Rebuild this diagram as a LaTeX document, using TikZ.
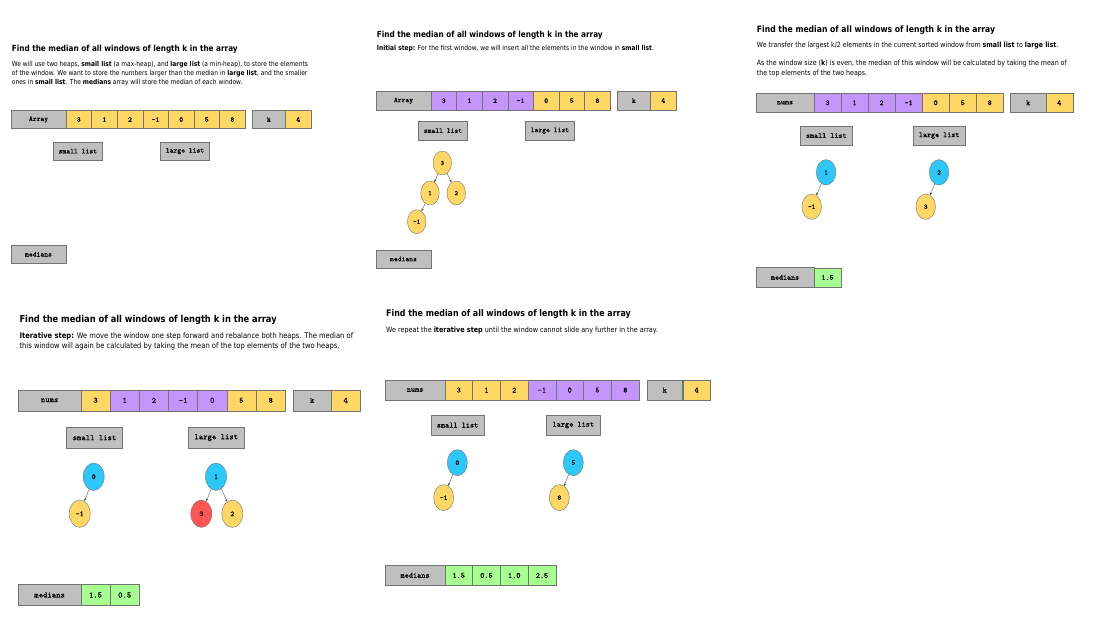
\documentclass[tikz,border=0pt]{standalone}
\usepackage{fontspec}
\setmainfont{DejaVu Sans}[FakeStretch=0.87]
\setmonofont{lmmono10-regular.otf}[FakeBold=0.8]
\usetikzlibrary{positioning,shapes.geometric,arrows.meta}
\definecolor{boxgray}{RGB}{191,191,191}
\definecolor{celly}{RGB}{255,215,100}
\definecolor{cellp}{RGB}{196,150,252}
\definecolor{cellg}{RGB}{168,255,145}
\definecolor{nodeb}{RGB}{45,200,250}
\definecolor{noder}{RGB}{255,85,85}

\begin{document}
\begin{tikzpicture}[x=1pt,y=-1pt,
    cell/.style={draw=black!55, line width=0.4pt, outer sep=0pt, inner sep=0pt,
        minimum width=25.6pt, minimum height=18.4pt,
        font=\fontsize{7.3}{7.3}\selectfont\ttfamily},
    rowlabel/.style={cell, fill=boxgray, minimum width=55pt},
    kbox/.style={cell, fill=boxgray, minimum width=33.2pt},
    listbox/.style={cell, fill=boxgray, minimum width=49.3pt, minimum height=18.5pt},
    yel/.style={cell, fill=celly},
    pur/.style={cell, fill=cellp},
    grn/.style={cell, fill=cellg},
    heap/.style={ellipse, draw=black!55, line width=0.4pt, inner sep=0pt,
        minimum width=18.5pt, minimum height=24pt,
        font=\fontsize{6.6}{6.6}\selectfont\ttfamily},
    yheap/.style={heap, fill=celly},
    bheap/.style={heap, fill=nodeb},
    rheap/.style={heap, fill=noder},
    ptr/.style={draw=black!70, line width=0.35pt, -{Stealth[length=2.8pt,width=2.4pt]}},
    heading/.style={anchor=west, inner sep=0pt, font=\fontsize{8.37}{9}\selectfont\bfseries},
    note/.style={anchor=north west, inner sep=0pt, align=left,
        font=\fontsize{6.82}{9.2}\selectfont}]

    \useasboundingbox (0,0) rectangle (1105,628);

    % window 0: the input
    \begin{scope}[shift={(11,49.3)}]
    \node[heading] (t1) at (0.7,0) {Find the median of all windows of length k in the array};
    \node[note] (d1) at (0.7,11.4) {We will use two heaps, \textbf{small list} (a max-heap), and \textbf{large list} (a min-heap), to store the elements\\
        of the window. We want to store the numbers larger than the median in \textbf{large list}, and the smaller\\
        ones in \textbf{small list}. The \textbf{medians} array will store the median of each window.};

    \node[rowlabel, anchor=west] (r1) at (0,70.2) {Array};
    \node[yel, right=0pt of r1] (r1a) {3};
    \node[yel, right=0pt of r1a] (r1b) {1};
    \node[yel, right=0pt of r1b] (r1c) {2};
    \node[yel, right=0pt of r1c] (r1d) {-1};
    \node[yel, right=0pt of r1d] (r1e) {0};
    \node[yel, right=0pt of r1e] (r1f) {5};
    \node[yel, right=0pt of r1f] (r1g) {8};
    \node[kbox, right=7pt of r1g] (k1) {k};
    \node[yel, right=0pt of k1] (v1) {4};

    \node[listbox] (s1) at (66.8,101.9) {small list};
    \node[listbox] (l1) at (174,101.9) {large list};

    \node[rowlabel, anchor=west] (m1) at (0,205) {medians};
    \end{scope}

    % window 1: initial step
    \begin{scope}[shift={(376,35)}]
    \node[heading] (t2) at (0.7,0) {Find the median of all windows of length k in the array};
    \node[note] (d2) at (0.7,10.4) {\textbf{Initial step:} For the first window, we will insert all the elements in the window in \textbf{small list}.};

    \node[rowlabel, anchor=west] (r2) at (0,65.7) {Array};
    \node[pur, right=0pt of r2] (r2a) {3};
    \node[pur, right=0pt of r2a] (r2b) {1};
    \node[pur, right=0pt of r2b] (r2c) {2};
    \node[pur, right=0pt of r2c] (r2d) {-1};
    \node[yel, right=0pt of r2d] (r2e) {0};
    \node[yel, right=0pt of r2e] (r2f) {5};
    \node[yel, right=0pt of r2f] (r2g) {8};
    \node[kbox, right=7pt of r2g] (k2) {k};
    \node[yel, right=0pt of k2] (v2) {4};

    \node[listbox] (s2) at (67,95.7) {small list};
    \node[listbox] (l2) at (173.9,95.7) {large list};

    \node[yheap] (h2a) at (66.3,128) {3};
    \node[yheap] (h2b) at (54,158) {1};
    \node[yheap] (h2c) at (80.3,158) {2};
    \node[yheap] (h2d) at (40.7,186.7) {-1};
    \draw[ptr] (h2a) -- (h2b);
    \draw[ptr] (h2a) -- (h2c);
    \draw[ptr] (h2b) -- (h2d);

    \node[rowlabel, anchor=west] (m2) at (0,224) {medians};
    \end{scope}

    % window 1: split the heaps
    \begin{scope}[shift={(756,30)}, scale=1.055, transform shape]
    \node[heading] (t3) at (0.7,0) {Find the median of all windows of length k in the array};
    \node[note] (d3) at (0.7,11) {We transfer the largest k/2 elements in the current sorted window from \textbf{small list} to \textbf{large list}.\\[8.3pt]
        As the window size (\textbf{k}) is even, the median of this window will be calculated by taking the mean of\\
        the top elements of the two heaps.};

    \node[rowlabel, anchor=west] (r3) at (0,68.9) {nums};
    \node[pur, right=0pt of r3] (r3a) {3};
    \node[pur, right=0pt of r3a] (r3b) {1};
    \node[pur, right=0pt of r3b] (r3c) {2};
    \node[pur, right=0pt of r3c] (r3d) {-1};
    \node[yel, right=0pt of r3d] (r3e) {0};
    \node[yel, right=0pt of r3e] (r3f) {5};
    \node[yel, right=0pt of r3f] (r3g) {8};
    \node[kbox, right=7pt of r3g] (k3) {k};
    \node[yel, right=0pt of k3] (v3) {4};

    \node[listbox] (s3) at (66.6,100.1) {small list};
    \node[listbox] (l3) at (173.6,100.1) {large list};

    \node[bheap] (h3a) at (66.4,134.9) {1};
    \node[yheap] (h3b) at (52.8,167.5) {-1};
    \node[bheap] (h3c) at (173.5,134.9) {2};
    \node[yheap] (h3d) at (160.9,167.5) {3};
    \draw[ptr] (h3a) -- (h3b);
    \draw[ptr] (h3c) -- (h3d);

    \node[rowlabel, anchor=west] (m3) at (0,234.5) {medians};
    \node[grn, right=0pt of m3] (m3a) {1.5};
    \end{scope}

    % window 2: iterative step
    \begin{scope}[shift={(18.3,320)}, scale=1.139, transform shape]
    \node[heading] (t4) at (0.9,0) {Find the median of all windows of length k in the array};
    \node[note] (d4) at (0.9,10.8) {\textbf{Iterative step:} We move the window one step forward and rebalance both heaps. The median of\\
        this window will again be calculated by taking the mean of the top elements of the two heaps.};

    \node[rowlabel, anchor=west] (r4) at (0,70.5) {nums};
    \node[yel, right=0pt of r4] (r4a) {3};
    \node[pur, right=0pt of r4a] (r4b) {1};
    \node[pur, right=0pt of r4b] (r4c) {2};
    \node[pur, right=0pt of r4c] (r4d) {-1};
    \node[pur, right=0pt of r4d] (r4e) {0};
    \node[yel, right=0pt of r4e] (r4f) {5};
    \node[yel, right=0pt of r4f] (r4g) {8};
    \node[kbox, right=7pt of r4g] (k4) {k};
    \node[yel, right=0pt of k4] (v4) {4};

    \node[listbox] (s4) at (66.9,103.3) {small list};
    \node[listbox] (l4) at (173.8,103.3) {large list};

    \node[bheap] (h4a) at (66.2,137.6) {0};
    \node[yheap] (h4b) at (53.9,170.1) {-1};
    \node[bheap] (h4c) at (173.6,137.6) {1};
    \node[rheap] (h4d) at (160.7,170.1) {3};
    \node[yheap] (h4e) at (187.9,170.1) {2};
    \draw[ptr] (h4a) -- (h4b);
    \draw[ptr] (h4c) -- (h4d);
    \draw[ptr] (h4c) -- (h4e);

    \node[rowlabel, anchor=west] (m4) at (0,241.4) {medians};
    \node[grn, right=0pt of m4] (m4a) {1.5};
    \node[grn, right=0pt of m4a] (m4b) {0.5};
    \end{scope}

    % last window
    \begin{scope}[shift={(385.3,314)}, scale=1.083, transform shape]
    \node[heading] (t5) at (0.65,0) {Find the median of all windows of length k in the array};
    \node[note] (d5) at (0.65,11.3) {We repeat the \textbf{iterative step} until the window cannot slide any further in the array.};

    \node[rowlabel, anchor=west] (r5) at (0,70.2) {nums};
    \node[yel, right=0pt of r5] (r5a) {3};
    \node[yel, right=0pt of r5a] (r5b) {1};
    \node[yel, right=0pt of r5b] (r5c) {2};
    \node[pur, right=0pt of r5c] (r5d) {-1};
    \node[pur, right=0pt of r5d] (r5e) {0};
    \node[pur, right=0pt of r5e] (r5f) {5};
    \node[pur, right=0pt of r5f] (r5g) {8};
    \node[kbox, right=7pt of r5g] (k5) {k};
    \node[yel, right=0pt of k5] (v5) {4};

    \node[listbox] (s5) at (66.7,102.6) {small list};
    \node[listbox] (l5) at (173.6,102.6) {large list};

    \node[bheap] (h5a) at (66.5,137.3) {0};
    \node[yheap] (h5b) at (53.9,169.6) {-1};
    \node[bheap] (h5c) at (173.6,137.3) {5};
    \node[yheap] (h5d) at (160.7,169.6) {8};
    \draw[ptr] (h5a) -- (h5b);
    \draw[ptr] (h5c) -- (h5d);

    \node[rowlabel, anchor=west] (m5) at (0,241.3) {medians};
    \node[grn, right=0pt of m5] (m5a) {1.5};
    \node[grn, right=0pt of m5a] (m5b) {0.5};
    \node[grn, right=0pt of m5b] (m5c) {1.0};
    \node[grn, right=0pt of m5c] (m5d) {2.5};
    \end{scope}
\end{tikzpicture}
\end{document}
